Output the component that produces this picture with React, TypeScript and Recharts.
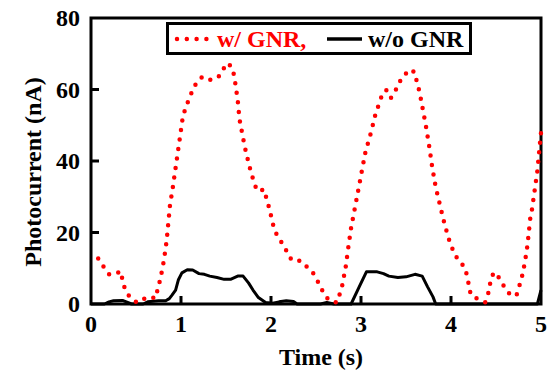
import { Legend, Line, LineChart, ReferenceArea, XAxis, YAxis } from "recharts";

const FONT = '"Liberation Serif", "Times New Roman", serif';

// time (s) and photocurrent (nA)
const gnrTime = [
  0.08, 0.14, 0.2, 0.27, 0.33, 0.35, 0.38, 0.43, 0.51, 0.63, 0.72, 0.74, 0.77,
  0.79, 0.81, 0.84, 0.86, 0.88, 0.9, 0.93, 0.96, 0.99, 1.02, 1.05, 1.09, 1.13,
  1.18, 1.24, 1.34, 1.43, 1.48, 1.53, 1.58, 1.6, 1.63, 1.65, 1.67, 1.71, 1.76,
  1.82, 1.86, 1.92, 1.95, 1.98, 2.03, 2.07, 2.13, 2.18, 2.23, 2.33, 2.4, 2.48,
  2.53, 2.58, 2.64, 2.73, 2.76, 2.79, 2.83, 2.86, 2.89, 2.93, 2.97, 3.01, 3.05,
  3.11, 3.16, 3.23, 3.28, 3.33, 3.37, 3.41, 3.47, 3.54, 3.6, 3.62, 3.65, 3.69,
  3.72, 3.76, 3.79, 3.83, 3.88, 3.93, 3.99, 4.03, 4.08, 4.15, 4.18, 4.2, 4.22,
  4.29, 4.38, 4.41, 4.43, 4.45, 4.49, 4.55, 4.6, 4.67, 4.73, 4.76, 4.79, 4.82,
  4.85, 4.88, 4.9, 4.93, 4.96, 4.98, 5.0,
];
const gnrCurrent = [
  12.7, 10.4, 8.3, 8.3, 9.2, 6.7, 3.9, 2.0, 0.4, 2.0, 1.6, 4.1, 6.9, 9.5, 12.2,
  17.6, 22.9, 28.3, 31, 36.3, 41.6, 46.9, 52.3, 54.8, 57.4, 59.9, 62.3, 63.6,
  62.6, 63.8, 66.1, 67.4, 65.1, 62.3, 57, 51.7, 49, 43.8, 38.5, 33.2, 31.5, 32.1,
  29.5, 26.8, 21.5, 19.0, 16.8, 14.5, 12.2, 12.1, 10.4, 8.3, 5.8, 3.3, 1.1, 0.4,
  2.5, 5.0, 10.4, 16, 21.3, 26.6, 31.9, 37.3, 42.6, 47.9, 53, 58.2, 59.9, 57.6,
  58.8, 61.4, 63.7, 65.6, 64.8, 62.1, 59.4, 54, 50, 43.8, 38.5, 32.7, 27.4, 22.2,
  17, 14.6, 12.2, 10.4, 7.8, 5, 2.5, 1.5, 0.5, 2.5, 5.1, 7.8, 8.9, 6.7, 4.4, 2.2,
  2.6, 5.1, 7.8, 11.5, 16.5, 23.8, 26.5, 31.9, 37.3, 42.7, 48,
];

const bareTime = [
  0, 0.15, 0.2, 0.25, 0.35, 0.4, 0.45, 0.58, 0.63, 0.75, 0.83, 0.87, 0.9, 0.94,
  0.97, 1.01, 1.07, 1.13, 1.2, 1.26, 1.32, 1.4, 1.48, 1.55, 1.63, 1.69, 1.75,
  1.8, 1.86, 1.94, 2.02, 2.09, 2.17, 2.25, 2.29, 2.55, 2.62, 2.7, 2.89, 2.98,
  3.06, 3.18, 3.25, 3.31, 3.41, 3.5, 3.6, 3.68, 3.74, 3.8, 3.83, 4.96, 5.0,
];
const bareCurrent = [
  0, 0, 0.6, 0.9, 1.0, 0.5, 0, 0, 0.6, 0.9, 0.9, 1.5, 2.5, 3.9, 6.7, 8.7, 9.6,
  9.5, 8.5, 8.3, 7.8, 7.4, 6.9, 6.9, 7.8, 7.8, 5.9, 3.9, 1.8, 0.4, 0.2, 0.6, 0.9,
  0.7, 0, 0, 0.4, 0, 0, 4.8, 9, 9, 8.5, 7.8, 7.4, 7.6, 8.3, 7.8, 4.8, 2, 0, 0,
  3.9,
];

const timeTicks = [0, 1, 2, 3, 4, 5];
const currentTicks = [0, 20, 40, 60, 80];

const gnrData = gnrTime.map((t, i) => ({ t, current: gnrCurrent[i] }));
const bareData = bareTime.map((t, i) => ({ t, current: bareCurrent[i] }));

const labelStyle = {
  fontFamily: FONT,
  fontWeight: "bold" as const,
  fontSize: 24,
  fill: "#000",
};

const TimeTick = ({ x, y, payload }: any) => (
  <g>
    {payload.value > 0 && payload.value < 5 && (
      <line x1={x} y1={y} x2={x} y2={y - 8} stroke="#000" strokeWidth={3} />
    )}
    <text x={x} y={y + 28} textAnchor="middle" style={labelStyle}>
      {payload.value}
    </text>
  </g>
);

const CurrentTick = ({ x, y, payload }: any) => (
  <g>
    {payload.value > 0 && payload.value < 80 && (
      <line x1={x} y1={y} x2={x + 8} y2={y} stroke="#000" strokeWidth={3} />
    )}
    <text x={x - 11} y={y + 8} textAnchor="end" style={labelStyle}>
      {payload.value}
    </text>
  </g>
);

const LegendBox = () => (
  <svg width={308} height={34} style={{ display: "block" }}>
    <rect x={1.5} y={1.5} width={303} height={30} fill="#fff" stroke="#000" strokeWidth={3} />
    <line
      x1={11}
      y1={17}
      x2={41}
      y2={17}
      stroke="#ff0000"
      strokeWidth={4.5}
      strokeDasharray="0 9.8"
      strokeLinecap="round"
    />
    <text x={51} y={25} style={{ ...labelStyle, fill: "#ff0000" }}>
      w/ GNR,
    </text>
    <line x1={161} y1={17} x2={196} y2={17} stroke="#000" strokeWidth={3.5} />
    <text x={202} y={25} style={labelStyle}>
      w/o GNR
    </text>
  </svg>
);

export default function App() {
  return (
    <div style={{ position: "absolute", left: 0, top: 0, background: "#fff" }}>
      <LineChart
        width={547}
        height={372}
        margin={{ top: 18, right: 6, bottom: 0, left: 0 }}
      >
        <XAxis
          dataKey="t"
          type="number"
          domain={[0, 5]}
          ticks={timeTicks}
          interval={0}
          height={68}
          tickSize={0}
          tickMargin={0}
          tickLine={false}
          axisLine={false}
          tick={<TimeTick />}
          label={{
            content: () => (
              <text x={321} y={365} textAnchor="middle" style={labelStyle}>
                Time (s)
              </text>
            ),
          }}
        />
        <YAxis
          type="number"
          domain={[0, 80]}
          ticks={currentTicks}
          interval={0}
          width={91}
          tickSize={0}
          tickMargin={0}
          tickLine={false}
          axisLine={false}
          tick={<CurrentTick />}
          label={{
            content: () => (
              <text
                x={41}
                y={172}
                transform="rotate(-90 41 172)"
                textAnchor="middle"
                style={labelStyle}
              >
                Photocurrent (nA)
              </text>
            ),
          }}
        />
        <ReferenceArea
          x1={0}
          x2={5}
          y1={0}
          y2={80}
          fill="none"
          fillOpacity={0}
          stroke="#000"
          strokeWidth={3}
          strokeOpacity={1}
        />
        <Legend
          layout="horizontal"
          verticalAlign="middle"
          align="center"
          content={() => <LegendBox />}
          wrapperStyle={{ left: 166, top: 22, width: 308, height: 34 }}
        />
        <Line
          data={bareData}
          dataKey="current"
          type="linear"
          stroke="#000"
          strokeWidth={3}
          strokeLinejoin="round"
          dot={false}
          activeDot={false}
          isAnimationActive={false}
        />
        <Line
          data={gnrData}
          dataKey="current"
          type="linear"
          stroke="#ff0000"
          strokeWidth={4.5}
          strokeDasharray="0 9.6"
          strokeLinecap="round"
          dot={false}
          activeDot={false}
          isAnimationActive={false}
        />
      </LineChart>
    </div>
  );
}
